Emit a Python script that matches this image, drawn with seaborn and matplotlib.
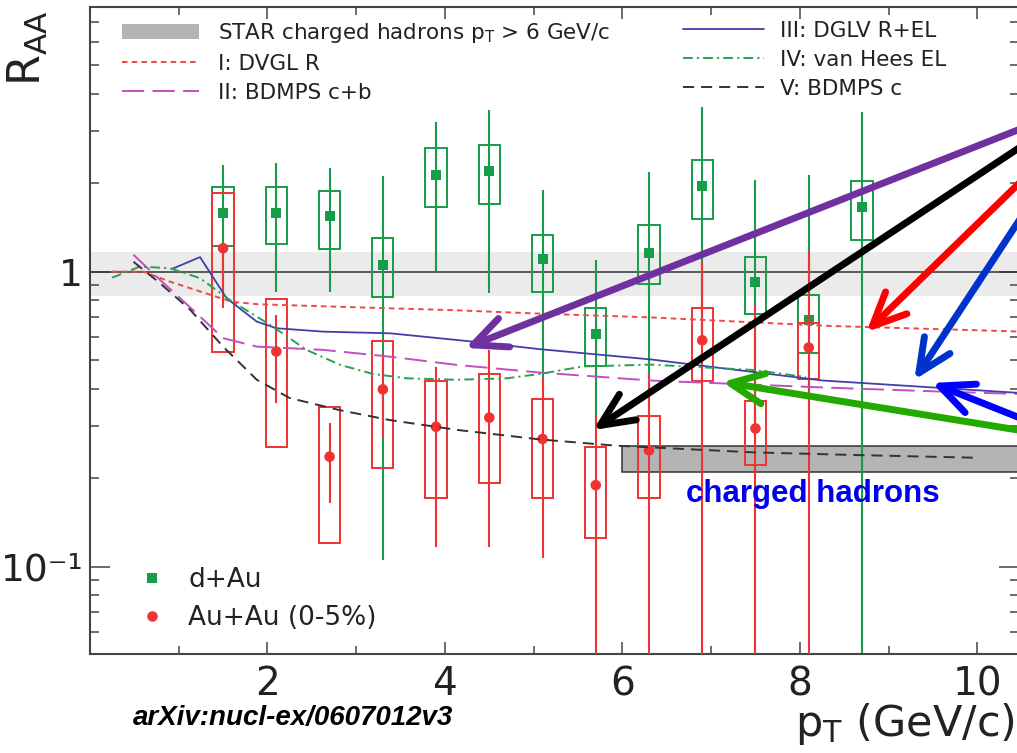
import numpy as np
import pandas as pd
import matplotlib
matplotlib.use("Agg")
import matplotlib.pyplot as plt
import seaborn as sns
from matplotlib.patches import Rectangle, Patch
from matplotlib.lines import Line2D
from matplotlib.ticker import FixedLocator, FixedFormatter, MultipleLocator, LogLocator, NullFormatter

# ---------------- data ----------------
pt_dau = [1.5, 2.1, 2.7, 3.3, 3.9, 4.5, 5.1, 5.7, 6.3, 6.9, 7.5, 8.1, 8.7]
raa_dau = [1.58, 1.585, 1.54, 1.05, 2.13, 2.19, 1.10, 0.615, 1.16, 1.95, 0.925, 0.684, 1.66]
stat_lo_dau = [0.86, 0.855, 0.855, 0.105, 1.008, 0.845, 0.35, 0.30, 0.30, 0.60, 0.30, 0.30, 0.04]
stat_hi_dau = [2.30, 2.33, 2.24, 2.11, 3.21, 3.53, 1.885, 1.093, 2.17, 3.62, 2.05, 2.12, 3.47]
sys_lo_dau = [1.22, 1.238, 1.19, 0.823, 1.65, 1.70, 0.854, 0.477, 0.908, 1.513, 0.721, 0.532, 1.278]
sys_hi_dau = [1.93, 1.93, 1.876, 1.30, 2.62, 2.69, 1.33, 0.751, 1.433, 2.38, 1.123, 0.836, 2.02]

pt_auau = [1.5, 2.1, 2.7, 3.3, 3.9, 4.5, 5.1, 5.7, 6.3, 6.9, 7.5, 8.1]
raa_auau = [1.20, 0.536, 0.236, 0.399, 0.298, 0.32, 0.271, 0.189, 0.248, 0.585, 0.294, 0.553]
stat_lo_auau = [0.751, 0.358, 0.164, 0.272, 0.117, 0.117, 0.107, 0.03, 0.03, 0.03, 0.03, 0.03]
stat_hi_auau = [1.21, 0.713, 0.308, 0.529, 0.476, 0.543, 0.439, 0.325, 0.45, 1.08, 0.77, 1.17]
sys_lo_auau = [0.536, 0.255, 0.12, 0.216, 0.171, 0.192, 0.171, 0.125, 0.171, 0.427, 0.222, 0.433]
sys_hi_auau = [1.852, 0.808, 0.349, 0.582, 0.427, 0.45, 0.370, 0.255, 0.325, 0.753, 0.365, 0.669]

pt_I = [0.25, 0.6, 0.9, 1.25, 1.6, 1.9, 3.0, 4.1, 5.1, 6.3, 8.3, 10.6]
raa_I = [1.0, 1.0, 0.925, 0.855, 0.79, 0.775, 0.757, 0.74, 0.72, 0.70, 0.655, 0.625]

pt_II = [0.49, 0.79, 1.2, 1.5, 1.88, 2.63, 3.38, 4.13, 5.07, 6.32, 8.26, 9.61, 10.6]
raa_II = [1.14, 0.937, 0.723, 0.595, 0.557, 0.543, 0.515, 0.483, 0.455, 0.4275, 0.405, 0.392, 0.384]

pt_III = [0.92, 1.24, 1.54, 1.88, 2.1, 2.63, 3.38, 3.76, 4.32, 5.07, 6.32, 8.26, 10.6]
raa_III = [1.02, 1.12, 0.812, 0.677, 0.643, 0.626, 0.618, 0.602, 0.579, 0.546, 0.504, 0.4275, 0.386]

pt_IV = [0.25, 0.56, 0.9, 1.24, 1.58, 2.03, 2.44, 2.82, 3.19, 3.57, 4.13, 4.7, 5.07, 5.55, 6.32, 7.49, 8.07]
raa_IV = [0.954, 1.04, 1.027, 0.95, 0.80, 0.66, 0.543, 0.483, 0.45, 0.435, 0.43, 0.435, 0.45, 0.477, 0.484, 0.464, 0.439]

pt_V = [0.49, 0.79, 1.13, 1.5, 1.88, 2.25, 2.82, 3.38, 4.13, 5.07, 5.94, 7.49, 8.64, 10.0]
raa_V = [1.08, 0.913, 0.742, 0.557, 0.43, 0.373, 0.339, 0.314, 0.291, 0.27, 0.257, 0.244, 0.239, 0.234]

star_pt = [6.0, 10.8]
star_raa = [0.21, 0.257]
norm_band = [0.827, 1.169]

x_ticks = [2, 4, 6, 8, 10]
x_minor_ticks = [1, 3, 5, 7, 9]
y_ticks = [0.1, 1.0]
y_tick_labels = ["10\u207b\u00b9", "1"]

legend_labels = ["STAR charged hadrons p$_\\mathrm{T}$ > 6 GeV/c", "I: DVGL R", "II: BDMPS c+b",
                 "III: DGLV R+EL", "IV: van Hees EL", "V: BDMPS c"]
data_labels = ["d+Au", "Au+Au (0-5%)"]

# ---------------- style ----------------
sns.set_theme(style="ticks")
plt.rcParams["font.family"] = ["DejaVu Sans"]
plt.rcParams["mathtext.fontset"] = "dejavusans"
plt.rcParams["lines.scale_dashes"] = False

C_GREEN = "#179c4a"
C_RED = "#f03232"
C_I = "#f04848"
C_II = "#c050c0"
C_III = "#4040a8"
C_IV = "#2aa050"
C_V = "#333333"
LS_I = (0, (4, 3))
LS_II = (0, (16, 6))
LS_IV = (0, (7, 3, 1.5, 3))
LS_V = (0, (8, 5))

fig = plt.figure(figsize=(10.17, 7.53), dpi=100)
ax = fig.add_axes([90 / 1017, 1 - 654.3 / 753, 929 / 1017, 647.6 / 753])
ax.set_facecolor("white")
ax.set_yscale("log")
ax.set_xlim(0, 10.47)
ax.set_ylim(0.0505, 7.9)

# normalisation band and unity line
ax.axhspan(norm_band[0], norm_band[1], color="#ebebeb", lw=0, zorder=0.5)
ax.axhline(1.0, color="#333333", lw=1.1, zorder=1)

# STAR box
ax.add_patch(Rectangle((star_pt[0], star_raa[0]), star_pt[1] - star_pt[0], star_raa[1] - star_raa[0],
                       facecolor="#b4b4b4", edgecolor="#333333", lw=1.1, zorder=1.5))

# d+Au
bw = 0.24
ax.vlines(pt_dau, stat_lo_dau, stat_hi_dau, color=C_GREEN, lw=1.5, zorder=2)
for x, lo, hi in zip(pt_dau, sys_lo_dau, sys_hi_dau):
    ax.add_patch(Rectangle((x - bw / 2, lo), bw, hi - lo, fill=False, edgecolor=C_GREEN, lw=1.4, zorder=2))
sns.scatterplot(x=pt_dau, y=raa_dau, marker="s", s=52, color=C_GREEN, edgecolor="none", ax=ax,
                legend=False, zorder=3)

# Au+Au
ax.vlines(pt_auau, stat_lo_auau, stat_hi_auau, color=C_RED, lw=1.5, zorder=3.5)
for x, lo, hi in zip(pt_auau, sys_lo_auau, sys_hi_auau):
    ax.add_patch(Rectangle((x - bw / 2, lo), bw, hi - lo, fill=False, edgecolor=C_RED, lw=1.4, zorder=3.5))
sns.scatterplot(x=pt_auau, y=raa_auau, marker="o", s=58, color=C_RED, edgecolor="none", ax=ax,
                legend=False, zorder=4)

# theory curves
sns.lineplot(x=pt_I, y=raa_I, ax=ax, color=C_I, lw=1.4, linestyle=LS_I, zorder=5)
sns.lineplot(x=pt_II, y=raa_II, ax=ax, color=C_II, lw=1.4, linestyle=LS_II, zorder=5)
sns.lineplot(x=pt_III, y=raa_III, ax=ax, color=C_III, lw=1.3, linestyle="-", zorder=5)
sns.lineplot(x=pt_IV, y=raa_IV, ax=ax, color=C_IV, lw=1.4, linestyle=LS_IV, zorder=5)
sns.lineplot(x=pt_V, y=raa_V, ax=ax, color=C_V, lw=1.4, linestyle=LS_V, zorder=5)

ax.set_xlim(0, 10.47)
ax.set_ylim(0.0505, 7.9)
ax.set_xlabel("")
ax.set_ylabel("")

# ticks
ax.xaxis.set_major_locator(FixedLocator(x_ticks))
ax.xaxis.set_minor_locator(FixedLocator(x_minor_ticks))
ax.yaxis.set_major_locator(FixedLocator(y_ticks))
ax.yaxis.set_major_formatter(FixedFormatter(y_tick_labels))
ax.yaxis.set_minor_locator(LogLocator(base=10, subs=np.arange(2, 10)))
ax.yaxis.set_minor_formatter(NullFormatter())
ax.tick_params(which="both", direction="in", top=True, right=True, color="#444444", width=1.1,
               labelcolor="#222222")
ax.tick_params(axis="x", which="major", length=8.6, pad=8, labelsize=28)
ax.tick_params(axis="x", which="minor", length=6)
ax.tick_params(axis="y", which="major", length=14.4, pad=5, labelsize=27)
ax.tick_params(axis="y", which="minor", length=6.8)
for sp in ax.spines.values():
    sp.set_color("#444444")
    sp.set_linewidth(1.5)

# legends
h_left = [Patch(facecolor="#b3b3b3", edgecolor="none"),
          Line2D([], [], color=C_I, lw=1.4, linestyle=LS_I),
          Line2D([], [], color=C_II, lw=1.4, linestyle=LS_II)]
h_right = [Line2D([], [], color=C_III, lw=1.3),
           Line2D([], [], color=C_IV, lw=1.4, linestyle=LS_IV),
           Line2D([], [], color=C_V, lw=1.4, linestyle=LS_V)]
leg1 = ax.legend(h_left, legend_labels[:3], loc="upper left", bbox_to_anchor=(0.0344, 0.978),
                 frameon=False, fontsize=15.5, handlelength=3.6, handletextpad=0.84, labelspacing=0.42,
                 borderpad=0, borderaxespad=0)
ax.add_artist(leg1)
leg2 = ax.legend(h_right, legend_labels[3:], loc="upper left", bbox_to_anchor=(0.6383, 0.978),
                 frameon=False, fontsize=15.5, handlelength=3.75, handletextpad=0.74, labelspacing=0.42,
                 borderpad=0, borderaxespad=0)
ax.add_artist(leg2)
h_data = [Line2D([], [], marker="s", color=C_GREEN, linestyle="none", markersize=7.2, markeredgewidth=0),
          Line2D([], [], marker="o", color=C_RED, linestyle="none", markersize=7.6, markeredgewidth=0)]
leg3 = ax.legend(h_data, data_labels, loc="upper left", bbox_to_anchor=(0.0533, 0.135),
                 frameon=False, fontsize=19, handlelength=0.95, handletextpad=0.9, labelspacing=0.45,
                 borderpad=0, borderaxespad=0, numpoints=1)
for lg in (leg1, leg2, leg3):
    for t in lg.get_texts():
        t.set_color("#222222")

# axis titles
fig.text(28 / 1017, 1 - 10 / 753, "R$_\\mathrm{AA}$", rotation=90, ha="center", va="top",
         fontsize=32, color="#222222")
fig.text(1015 / 1017, 1 - 724 / 753, "p$_\\mathrm{T}$ (GeV/c)", ha="right", va="center",
         fontsize=31, color="#222222")

# annotations
fig.text(133 / 1017, 1 - 718 / 753, "arXiv:nucl-ex/0607012v3", ha="left", va="center",
         fontsize=20, fontweight="bold", fontstyle="italic", family="Liberation Sans", color="black")
ax.text(8.15, 0.176, "charged hadrons", ha="center", va="center", fontsize=22.5, fontweight="bold",
        family="Liberation Sans", color="#0000ee", zorder=9)

arrows = [
    ((4.23, 0.551), (10.6, 3.14), "#7030a0"),
    ((5.67, 0.2905), (10.6, 2.786), "black"),
    ((8.75, 0.6246), (10.6, 2.173), "#ff0000"),
    ((9.29, 0.4295), (10.6, 1.707), "#0033cc"),
    ((9.49, 0.4195), (10.6, 0.309), "#0000ff"),
    ((7.125, 0.4228), (10.6, 0.286), "#22aa00"),
]
for tip, start, col in arrows:
    ax.annotate("", xy=tip, xytext=start, xycoords="data", textcoords="data",
                arrowprops=dict(arrowstyle="->,head_length=1.2,head_width=0.55", color=col, lw=5,
                                mutation_scale=20, shrinkA=0, shrinkB=0, capstyle="round",
                                joinstyle="round"),
                zorder=10, annotation_clip=False)

fig.savefig("out.png", dpi=100)
